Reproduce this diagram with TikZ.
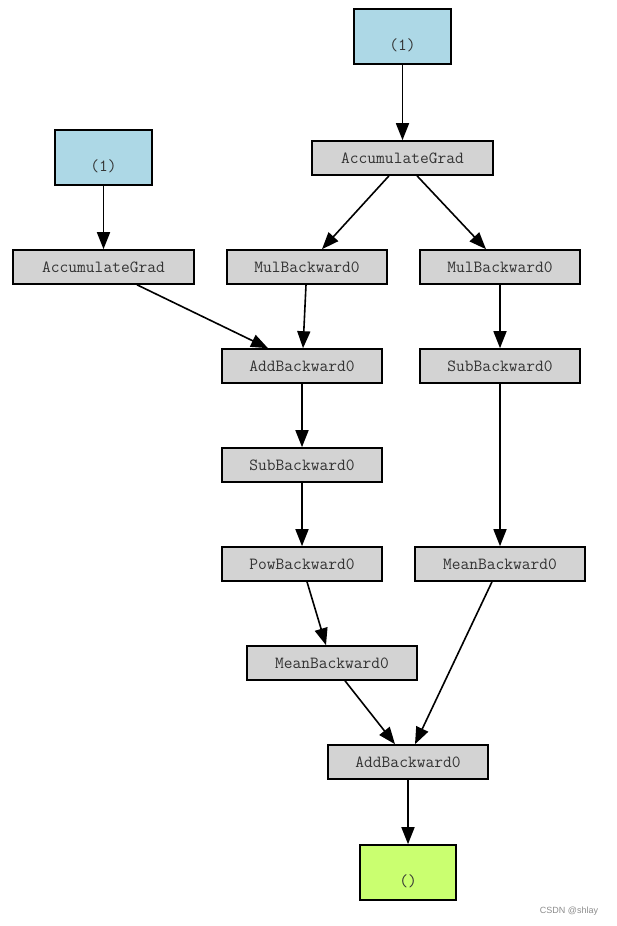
\documentclass[tikz,border=0pt]{standalone}
\usepackage{fontspec}
\newfontfamily\wmfont{Liberation Sans}
\usetikzlibrary{arrows.meta}
\definecolor{gbox}{HTML}{D3D3D3}
\definecolor{bbox}{HTML}{ADD8E6}
\definecolor{obox}{HTML}{CAFF70}
\begin{document}
\begin{tikzpicture}[x=1pt,y=-1pt,
  fn/.style={draw=black,line width=1.6pt,fill=gbox,minimum width=160pt,minimum height=34pt,inner sep=0pt,font=\fontsize{17}{17}\selectfont\ttfamily,text=black!80},
  leaf/.style={draw=black,line width=1.6pt,minimum width=97pt,minimum height=55pt,inner sep=0pt,align=center,font=\fontsize{17}{17}\selectfont\ttfamily,text=black!80},
  edge/.style={line width=1.6pt,-{Triangle[length=17pt,width=13pt]}}]
\useasboundingbox (0,0) rectangle (617,926);
\node[leaf,fill=bbox] (b1) at (402.5,36.5) {\strut\\[4pt]\strut(1)};
\node[leaf,fill=bbox] (b2) at (103.5,157.5) {\strut\\[4pt]\strut(1)};
\node[fn,minimum width=181pt] (ag1) at (402.5,158) {AccumulateGrad};
\node[fn,minimum width=181pt] (ag2) at (103.5,267) {AccumulateGrad};
\node[fn] (mul1) at (307,267) {MulBackward0};
\node[fn] (mul2) at (500,267) {MulBackward0};
\node[fn] (add1) at (302,366) {AddBackward0};
\node[fn] (sub2) at (500,366) {SubBackward0};
\node[fn] (sub1) at (302,465) {SubBackward0};
\node[fn] (pow) at (302,564) {PowBackward0};
\node[fn,minimum width=170pt] (mean2) at (500,564) {MeanBackward0};
\node[fn,minimum width=170pt] (mean1) at (332,663) {MeanBackward0};
\node[fn] (add2) at (408,762) {AddBackward0};
\node[leaf,fill=obox,minimum width=96pt] (out) at (408,872.5) {\strut\\[4pt]\strut()};
\node[font=\fontsize{9}{10}\selectfont\wmfont,text=black!45] (wm) at (569,911) {CSDN @shlay};
\draw[edge] (b1) -- (ag1);
\draw[edge] (b2) -- (ag2);
\draw[edge] ([xshift=-13.5pt]ag1.south) -- ([xshift=15pt]mul1.north);
\draw[edge] ([xshift=14.5pt]ag1.south) -- ([xshift=-14pt]mul2.north);
\draw[edge] ([xshift=33.5pt]ag2.south) -- ([xshift=-34pt]add1.north);
\draw[edge] ([xshift=-1pt]mul1.south) -- ([xshift=1pt]add1.north);
\draw[edge] (mul2) -- (sub2);
\draw[edge] (add1) -- (sub1);
\draw[edge] (sub1) -- (pow);
\draw[edge] (sub2) -- (mean2);
\draw[edge] ([xshift=5pt]pow.south) -- ([xshift=-6pt]mean1.north);
\draw[edge] ([xshift=13pt]mean1.south) -- ([xshift=-13pt]add2.north);
\draw[edge] ([xshift=-8pt]mean2.south) -- ([xshift=7pt]add2.north);
\draw[edge] (add2) -- (out);
\end{tikzpicture}
\end{document}
